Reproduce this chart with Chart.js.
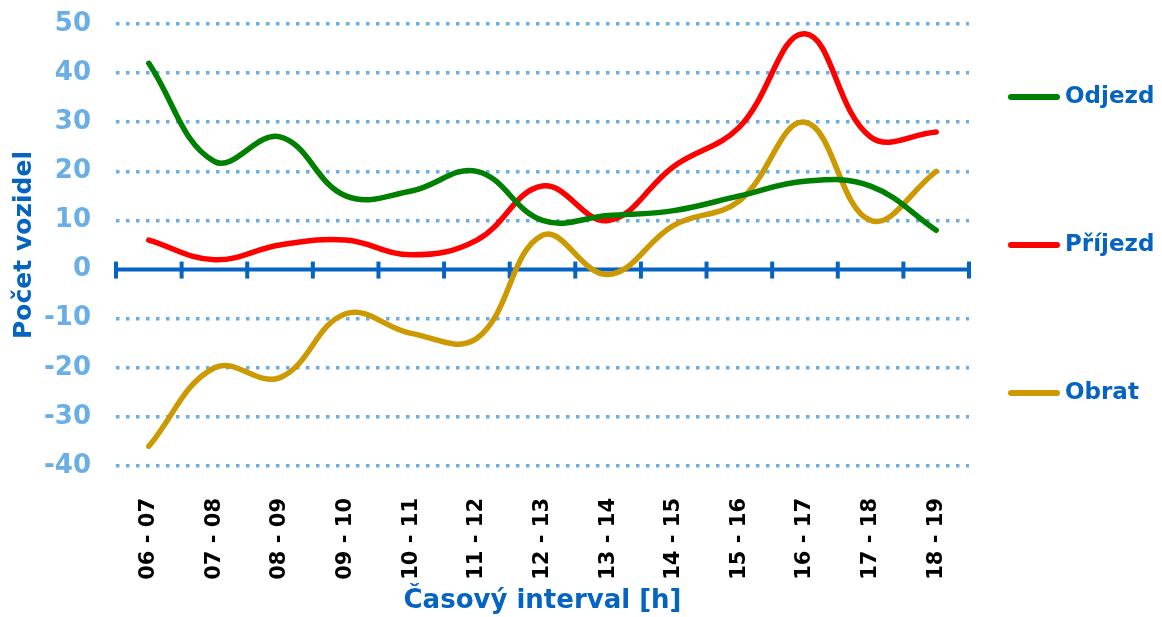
<!DOCTYPE html>
<html>
<head>
<meta charset="utf-8">
<script src="https://cdn.jsdelivr.net/npm/chart.js@4"></script>
<style>
  html, body { margin: 0; padding: 0; background: #ffffff; }
  canvas { display: block; }
</style>
</head>
<body>
<canvas id="vozidlaChart" width="1162" height="617"></canvas>
<script>
// Data
const intervals = ['06 - 07', '07 - 08', '08 - 09', '09 - 10', '10 - 11', '11 - 12', '12 - 13',
                   '13 - 14', '14 - 15', '15 - 16', '16 - 17', '17 - 18', '18 - 19'];
const odjezd = [42, 22, 27, 15, 16, 20, 10, 11, 12, 15, 18, 17, 8];
const prijezd = [6, 2, 5, 6, 3, 6, 17, 10, 21, 29, 48, 27, 28];
const obrat = [-36, -20, -22, -9, -13, -14, 7, -1, 9, 14, 30, 10, 20];
const seriesNames = ['Odjezd', 'Příjezd', 'Obrat'];
const yMin = -40, yMax = 50, yStep = 10;

const BLUE = '#0563c1';
const GRID_BLUE = '#6aaee6';
const colors = ['#008000', '#ff0000', '#cc9900'];

Chart.defaults.font.family = "'DejaVu Sans', Verdana, sans-serif";

// Thick zero axis with tick marks between categories
const zeroAxis = {
    id: 'zeroAxis',
    beforeDatasetsDraw(chart) {
        const {ctx, chartArea, scales: {x, y}} = chart;
        const y0 = y.getPixelForValue(0);
        ctx.save();
        ctx.strokeStyle = BLUE;
        ctx.lineWidth = 4;
        ctx.beginPath();
        ctx.moveTo(chartArea.left, y0);
        ctx.lineTo(chartArea.right, y0);
        ctx.stroke();
        for (let i = 0; i <= intervals.length; i++) {
            const px = x.getPixelForValue(i - 0.5);
            ctx.beginPath();
            ctx.moveTo(px, y0 - 8);
            ctx.lineTo(px, y0 + 9);
            ctx.stroke();
        }
        ctx.restore();
    }
};

// Legend on the right, spread out like the original
const sideLegend = {
    id: 'sideLegend',
    afterDraw(chart) {
        const {ctx, chartArea} = chart;
        const mid = (chartArea.top + chartArea.bottom) / 2;
        const gap = 148;
        ctx.save();
        chart.data.datasets.forEach((ds, i) => {
            const cy = mid + (i - 1) * gap;
            ctx.strokeStyle = ds.borderColor;
            ctx.lineWidth = 6;
            ctx.lineCap = 'round';
            ctx.beginPath();
            ctx.moveTo(chartArea.right + 42, cy);
            ctx.lineTo(chartArea.right + 88, cy);
            ctx.stroke();
            ctx.fillStyle = BLUE;
            ctx.font = "bold 23px 'DejaVu Sans'";
            ctx.textBaseline = 'middle';
            ctx.textAlign = 'left';
            ctx.fillText(ds.label, chartArea.right + 96, cy);
        });
        ctx.restore();
    }
};

const series = [odjezd, prijezd, obrat];

new Chart(document.getElementById('vozidlaChart').getContext('2d'), {
    type: 'line',
    data: {
        labels: intervals,
        datasets: series.map((values, i) => ({
            label: seriesNames[i],
            data: values,
            borderColor: colors[i],
            backgroundColor: colors[i],
            borderWidth: 5.5,
            borderCapStyle: 'round',
            borderJoinStyle: 'round',
            pointRadius: 0,
            pointHoverRadius: 0,
            tension: 0.4,
            fill: false
        }))
    },
    options: {
        responsive: false,
        animation: false,
        layout: {
            padding: { top: 24, right: 193, bottom: 0, left: 0 }
        },
        plugins: {
            legend: { display: false },
            tooltip: { enabled: false }
        },
        scales: {
            x: {
                offset: true,
                grid: { display: false },
                border: { display: false },
                afterFit: function(scale) { scale.height = 151; },
                ticks: {
                    autoSkip: false,
                    minRotation: 90,
                    maxRotation: 90,
                    padding: 24,
                    color: '#000000',
                    font: { size: 21, weight: 'bold' }
                },
                title: {
                    display: true,
                    text: 'Časový interval [h]',
                    color: BLUE,
                    padding: { top: 0, bottom: 0 },
                    font: { size: 26, weight: 'bold' }
                }
            },
            y: {
                min: yMin,
                max: yMax,
                afterFit: function(scale) { scale.width = 116; },
                grid: {
                    drawTicks: true,
                    tickLength: 22,
                    tickColor: 'rgba(0,0,0,0)',
                    lineWidth: 3.5,
                    color: function(context) {
                        return context.tick && context.tick.value === 0 ? 'rgba(0,0,0,0)' : GRID_BLUE;
                    }
                },
                border: { display: false, dash: [3.5, 6.5] },
                ticks: {
                    stepSize: yStep,
                    padding: 3,
                    color: GRID_BLUE,
                    font: { size: 26, weight: 'bold' }
                },
                title: {
                    display: true,
                    text: 'Počet vozidel',
                    color: BLUE,
                    padding: { top: 9, bottom: 0 },
                    font: { size: 25, weight: 'bold' }
                }
            }
        }
    },
    plugins: [zeroAxis, sideLegend]
});
</script>
</body>
</html>
